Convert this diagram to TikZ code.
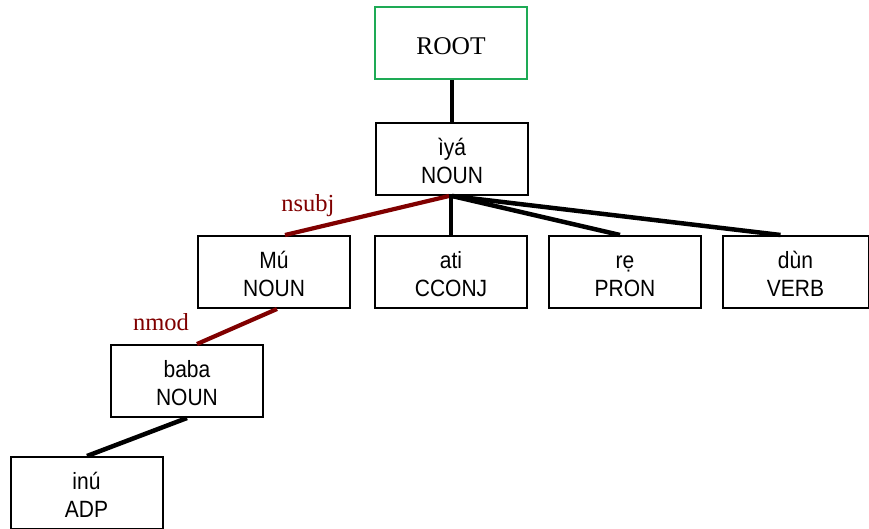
\documentclass[tikz,border=0pt]{standalone}
\usepackage{fontspec}
\usepackage{graphicx}
\setmainfont{Liberation Serif}
\newfontfamily\boxfont{Liberation Sans}
\usetikzlibrary{calc}
\definecolor{deprel}{RGB}{128,0,0}
\definecolor{rootgreen}{RGB}{30,170,85}
\newcommand{\toklines}[2]{\raisebox{-4.9pt}[\height][\depth]{\scalebox{1}[1.12]{\begin{tabular}{@{}c@{}}#1\\#2\end{tabular}}}}
\tikzset{
  x=1pt, y=-1pt,
  tok/.style={draw=black, line width=2pt, minimum width=152pt, minimum height=72pt,
    inner sep=0pt, align=center, font=\boxfont\fontsize{21}{25}\selectfont},
  rootbox/.style={draw=rootgreen, line width=2pt, minimum width=152pt, minimum height=72pt,
    inner sep=0pt, font=\fontsize{25.5}{28}\selectfont},
  plainedge/.style={draw=black, line width=4.5pt},
  reledge/.style={draw=deprel, line width=4.2pt},
  rellabel/.style={text=deprel, anchor=base, inner sep=0pt, font=\fontsize{24.5}{26}\selectfont}
}
\begin{document}
\begin{tikzpicture}
\useasboundingbox (0,0) rectangle (869,529);
\node[rootbox] (root) at (451,43) {\raisebox{-3.5pt}[\height][\depth]{ROOT}};
\node[tok] (iya) at (452,159) {\toklines{ìyá}{NOUN}};
\node[tok] (mu) at (274,272) {\toklines{Mú}{NOUN}};
\node[tok] (ati) at (451,272) {\toklines{ati}{CCONJ}};
\node[tok] (re) at (625,272) {\toklines{rẹ}{PRON}};
\node[tok, minimum width=146pt] (dun) at (795.5,272) {\toklines{dùn}{VERB}};
\node[tok] (baba) at (187,381) {\toklines{baba}{NOUN}};
\node[tok] (inu) at (86.5,493) {\toklines{inú}{ADP}};
\draw[plainedge] (iya.north |- root.south) -- (iya.north);
\draw[reledge] ($(iya.south)+(-3,0)$) -- ($(mu.north)+(11,0)$);
\draw[plainedge] ($(iya.south)+(-1,0)$) -- ($(ati.north)+(0,0)$);
\draw[plainedge] (iya.south) -- ($(re.north)+(-5,0)$);
\draw[plainedge] (iya.south) -- ($(dun.north)+(-15,0)$);
\draw[reledge] ($(mu.south)+(3,0)$) -- ($(baba.north)+(10,0)$);
\draw[plainedge] (baba.south) -- ($(inu.north)+(0.5,0)$);
\node[rellabel] (lnsubj) at (308,212) {nsubj};
\node[rellabel] (lnmod) at (161,330) {nmod};
\end{tikzpicture}
\end{document}
